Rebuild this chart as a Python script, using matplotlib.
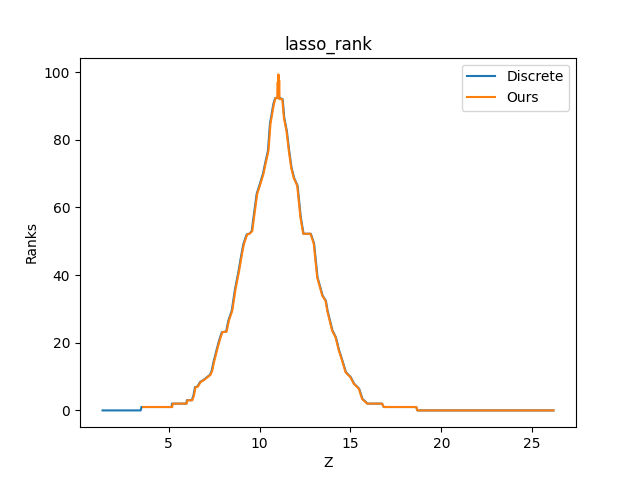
import matplotlib
matplotlib.use("Agg")
import matplotlib.pyplot as plt

# Discrete ranks (blue)
discrete_z = [1.36, 3.46, 3.50, 5.16, 5.18, 5.97, 6.00, 6.27, 6.36, 6.45, 6.57,
              6.73, 6.92, 7.10, 7.27, 7.37, 7.46, 7.65, 7.77, 7.92, 8.16, 8.28,
              8.47, 8.65, 8.83, 9.02, 9.11, 9.29, 9.43, 9.57, 9.64, 9.84, 10.02,
              10.19, 10.30, 10.46, 10.57, 10.76, 10.86, 11.13, 11.27, 11.36,
              11.50, 11.63, 11.76, 11.90, 12.09, 12.27, 12.42, 12.82, 13.00,
              13.19, 13.47, 13.65, 13.74, 14.01, 14.20, 14.38, 14.56, 14.75,
              15.02, 15.20, 15.48, 15.66, 15.94, 16.74, 16.83, 18.62, 18.68, 26.17]
discrete_rank = [0, 0, 1, 1, 2, 2, 3, 3, 4.4, 6.9, 7, 8.4, 9, 9.8, 10.5, 11.8,
                 14.2, 18.2, 20.6, 23.1, 23.3, 26.5, 29.5, 35.9, 40.8, 46.7,
                 49.2, 52, 52.2, 53, 56, 64, 67, 70, 72.9, 76.7, 84.7, 90.6,
                 92.3, 92.3, 92, 86.4, 82.6, 76.7, 71.7, 68.7, 66.4, 57, 52.2,
                 52.2, 49.3, 39.3, 33.9, 32.4, 29.5, 23.6, 21.6, 17.7, 14.7,
                 11.3, 9.8, 7.9, 6.4, 3.4, 2, 2, 1, 1, 0, 0]

# Ours (orange)
ours_z = [3.59, 5.20, 5.22, 5.99, 6.03, 6.30, 6.39, 6.48, 6.60, 6.76, 6.95,
          7.13, 7.30, 7.40, 7.49, 7.68, 7.80, 7.95, 8.19, 8.31, 8.50, 8.68,
          8.86, 9.05, 9.14, 9.32, 9.45, 9.60, 9.67, 9.87, 10.05, 10.22, 10.33,
          10.49, 10.60, 10.79, 10.88, 10.97, 11.00, 11.02, 11.04, 11.06, 11.08,
          11.10, 11.25, 11.34, 11.48, 11.61, 11.74, 11.88, 12.07, 12.25, 12.40,
          12.80, 12.98, 13.17, 13.45, 13.63, 13.72, 13.99, 14.18, 14.36, 14.54,
          14.73, 15.00, 15.18, 15.46, 15.64, 15.92, 16.74, 16.83, 18.62, 18.68,
          26.17]
ours_rank = [1, 1, 2, 2, 3, 3, 4.4, 6.9, 7, 8.4, 9, 9.8, 10.5, 11.8, 14.2,
             18.2, 20.6, 23.1, 23.3, 26.5, 29.5, 35.9, 40.8, 46.7, 49.2, 52,
             52.2, 53, 56, 64, 67, 70, 72.9, 76.7, 84.7, 90.6, 92.3, 92.3, 97,
             92.5, 99.3, 93, 97.5, 92, 92, 86.4, 82.6, 76.7, 71.7, 68.7, 66.4,
             57, 52.2, 52.2, 49.3, 39.3, 33.9, 32.4, 29.5, 23.6, 21.6, 17.7,
             14.7, 11.3, 9.8, 7.9, 6.4, 3.4, 2, 2, 1, 1, 0, 0]

fig, ax = plt.subplots(figsize=(6.4, 4.8), dpi=100)
ax.plot(discrete_z, discrete_rank, label="Discrete")
ax.plot(ours_z, ours_rank, label="Ours")
ax.set_title("lasso_rank")
ax.set_xlabel("Z")
ax.set_ylabel("Ranks")
ax.legend()
fig.savefig("out.png")
